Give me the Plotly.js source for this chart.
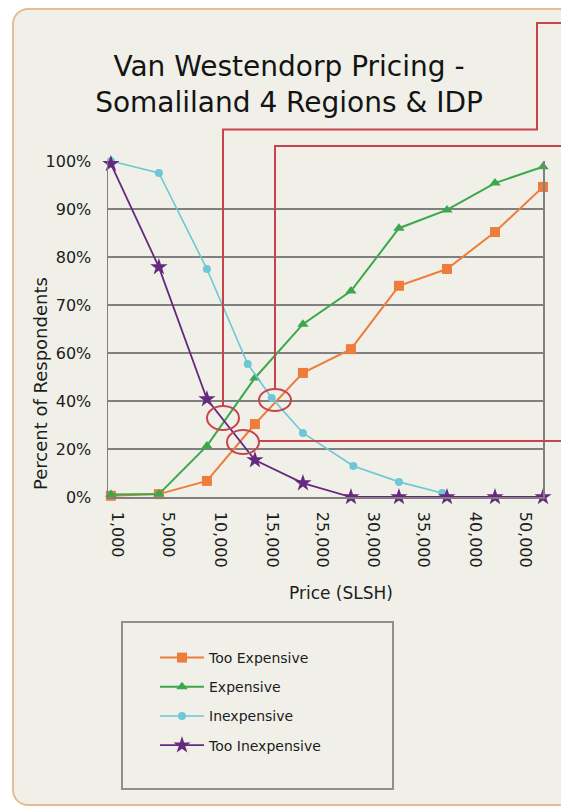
<!DOCTYPE html>
<html>
<head>
<meta charset="utf-8">
<script src="https://cdn.plot.ly/plotly-3.0.1.min.js"></script>
<style>
  html, body { margin: 0; padding: 0; background: #ffffff; width: 561px; height: 806px; overflow: hidden; }
  #frame { position: absolute; left: 12px; top: 8px; width: 700px; height: 794px;
           border: 2px solid #e6bc92; border-radius: 16px; background: #f0f0e9; }
  #chart { position: absolute; left: 0; top: 0; width: 561px; height: 806px; }
</style>
</head>
<body>
<div id="frame"></div>
<div id="chart"></div>
<script>
// ---- data ----
const pricePoints = [0, 1, 2, 3, 4, 5, 6, 7, 8, 9];            // price point index along the x axis
const tooExpensive = [0.5, 1.2, 6.7, 30.4, 51.7, 60.8, 74.0, 77.5, 85.2, 94.6];
const expensive    = [1.0, 1.2, 21.3, 49.6, 66.0, 72.9, 86.0, 89.8, 95.4, 98.8];
const inexpensiveX = [0, 1, 2, 2.85, 3.35, 4, 5.05, 6, 6.9];
const inexpensive  = [100, 97.5, 77.5, 55.4, 41.3, 26.7, 12.9, 6.3, 1.7];
const tooInexpensive = [99.4, 77.9, 40.8, 15.4, 5.8, 0, 0, 0, 0, 0];

const xTickLabels = ['1,000', '5,000', '10,000', '15,000', '25,000', '30,000', '35,000', '40,000', '50,000'];
const yTickPercents = [0, 20, 40, 60, 70, 80, 90, 100];
const yTickLabels = ['0%', '20%', '40%', '60%', '70%', '80%', '90%', '100%'];

// ---- layout helpers ----
const xTickPos = [0.125, 1.19, 2.27, 3.35, 4.40, 5.46, 6.5, 7.58, 8.63];
// the axis is drawn with evenly spaced gridlines for 0,20,40,60,70,80,90,100 %
function gridUnits(p) { return p <= 60 ? p / 20 : 3 + (p - 60) / 10; }

const W = 561, H = 806;
const M = { l: 108, r: 18, t: 161, b: 309 };
const PW = W - M.l - M.r, PH = H - M.t - M.b;
const px = x => (x - M.l) / PW;
const py = y => (H - M.b - y) / PH;

const FONT = 'DejaVu Sans, sans-serif';
const RED = '#c8444c';

function trace(name, x, y, color, symbol, size, lw) {
  return {
    type: 'scatter', mode: 'lines+markers', name: name, legendgroup: name,
    x: x, y: y.map(gridUnits), cliponaxis: false,
    line: { color: color, width: lw },
    marker: { color: color, symbol: symbol, size: size, line: { width: 0 } },
    hoverinfo: 'skip'
  };
}

const data = [
  trace('Too Expensive', pricePoints, tooExpensive, '#ee7d3c', 'square', 10, 2),
  trace('Expensive', pricePoints, expensive, '#3aa84b', 'triangle-up', 10, 2),
  trace('Inexpensive', inexpensiveX, inexpensive, '#6cc8d5', 'circle', 8, 1.6),
  trace('Too Inexpensive', pricePoints, tooInexpensive, '#65297f', 'star', 13, 1.8)
];

const shapes = [
  // red annotation lines
  { type: 'path', xref: 'paper', yref: 'paper',
    path: `M${px(223)},${py(406)} L${px(223)},${py(129.5)} L${px(537)},${py(129.5)} L${px(537)},${py(23)} L${px(570)},${py(23)}`,
    line: { color: RED, width: 2 } },
  { type: 'path', xref: 'paper', yref: 'paper',
    path: `M${px(275)},${py(389)} L${px(275)},${py(146)} L${px(570)},${py(146)}`,
    line: { color: RED, width: 2 } },
  { type: 'line', xref: 'paper', yref: 'paper', x0: px(259), x1: px(570), y0: py(441), y1: py(441),
    line: { color: RED, width: 2 } },
  // ellipses around crossing points
  { type: 'circle', xref: 'paper', yref: 'paper', x0: px(207), x1: px(239), y0: py(406), y1: py(430),
    line: { color: RED, width: 2 } },
  { type: 'circle', xref: 'paper', yref: 'paper', x0: px(227), x1: px(259), y0: py(430), y1: py(454),
    line: { color: RED, width: 2 } },
  { type: 'circle', xref: 'paper', yref: 'paper', x0: px(259), x1: px(291), y0: py(389), y1: py(411),
    line: { color: RED, width: 2 } },
  // legend box
  { type: 'rect', xref: 'paper', yref: 'paper', x0: px(122), x1: px(393), y0: py(622), y1: py(789),
    line: { color: '#8f8f8f', width: 2 }, fillcolor: 'rgba(0,0,0,0)' }
];

const layout = {
  width: W, height: H,
  margin: M,
  paper_bgcolor: 'rgba(0,0,0,0)',
  plot_bgcolor: 'rgba(0,0,0,0)',
  font: { family: FONT, color: '#1c1c1c' },
  title: {
    text: 'Van Westendorp Pricing -<br>Somaliland 4 Regions & IDP',
    font: { family: FONT, size: 28, color: '#141414' },
    xref: 'container', yref: 'container', x: 289 / W, xanchor: 'center',
    y: 1 - 76 / H, yanchor: 'top'
  },
  xaxis: {
    range: [-0.06, 9], showgrid: false, zeroline: false,
    showline: true, linecolor: '#808080', linewidth: 1.5,
    tickmode: 'array', tickvals: xTickPos, ticktext: xTickLabels,
    tickangle: 90, ticks: '', ticklabelstandoff: 10,
    tickfont: { family: FONT, size: 16, color: '#1c1c1c' },
    fixedrange: true
  },
  yaxis: {
    range: [0, 7], showgrid: true, gridcolor: '#808080', gridwidth: 1.5, zeroline: false,
    showline: true, mirror: true, linecolor: '#808080', linewidth: 1.5,
    tickmode: 'array', tickvals: yTickPercents.map(gridUnits), ticktext: yTickLabels,
    ticks: '', ticklabelstandoff: 12,
    tickfont: { family: FONT, size: 16, color: '#1c1c1c' },
    fixedrange: true
  },
  showlegend: true,
  legend: {
    x: px(155), y: py(642), xanchor: 'left', yanchor: 'top',
    bgcolor: 'rgba(0,0,0,0)', borderwidth: 0,
    font: { family: FONT, size: 14, color: '#1c1c1c' },
    tracegroupgap: 8, itemwidth: 44, traceorder: 'grouped'
  },
  annotations: [
    { text: 'Percent of Respondents', xref: 'paper', yref: 'paper', x: px(40), y: py(384),
      xanchor: 'center', yanchor: 'middle',
      textangle: -90, showarrow: false, font: { family: FONT, size: 18, color: '#1c1c1c' } },
    { text: 'Price (SLSH)', xref: 'paper', yref: 'paper', x: px(341), y: py(593),
      xanchor: 'center', yanchor: 'middle',
      showarrow: false, font: { family: FONT, size: 17, color: '#1c1c1c' } }
  ],
  shapes: shapes
};

Plotly.newPlot('chart', data, layout, { displayModeBar: false, staticPlot: true });
</script>
</body>
</html>
